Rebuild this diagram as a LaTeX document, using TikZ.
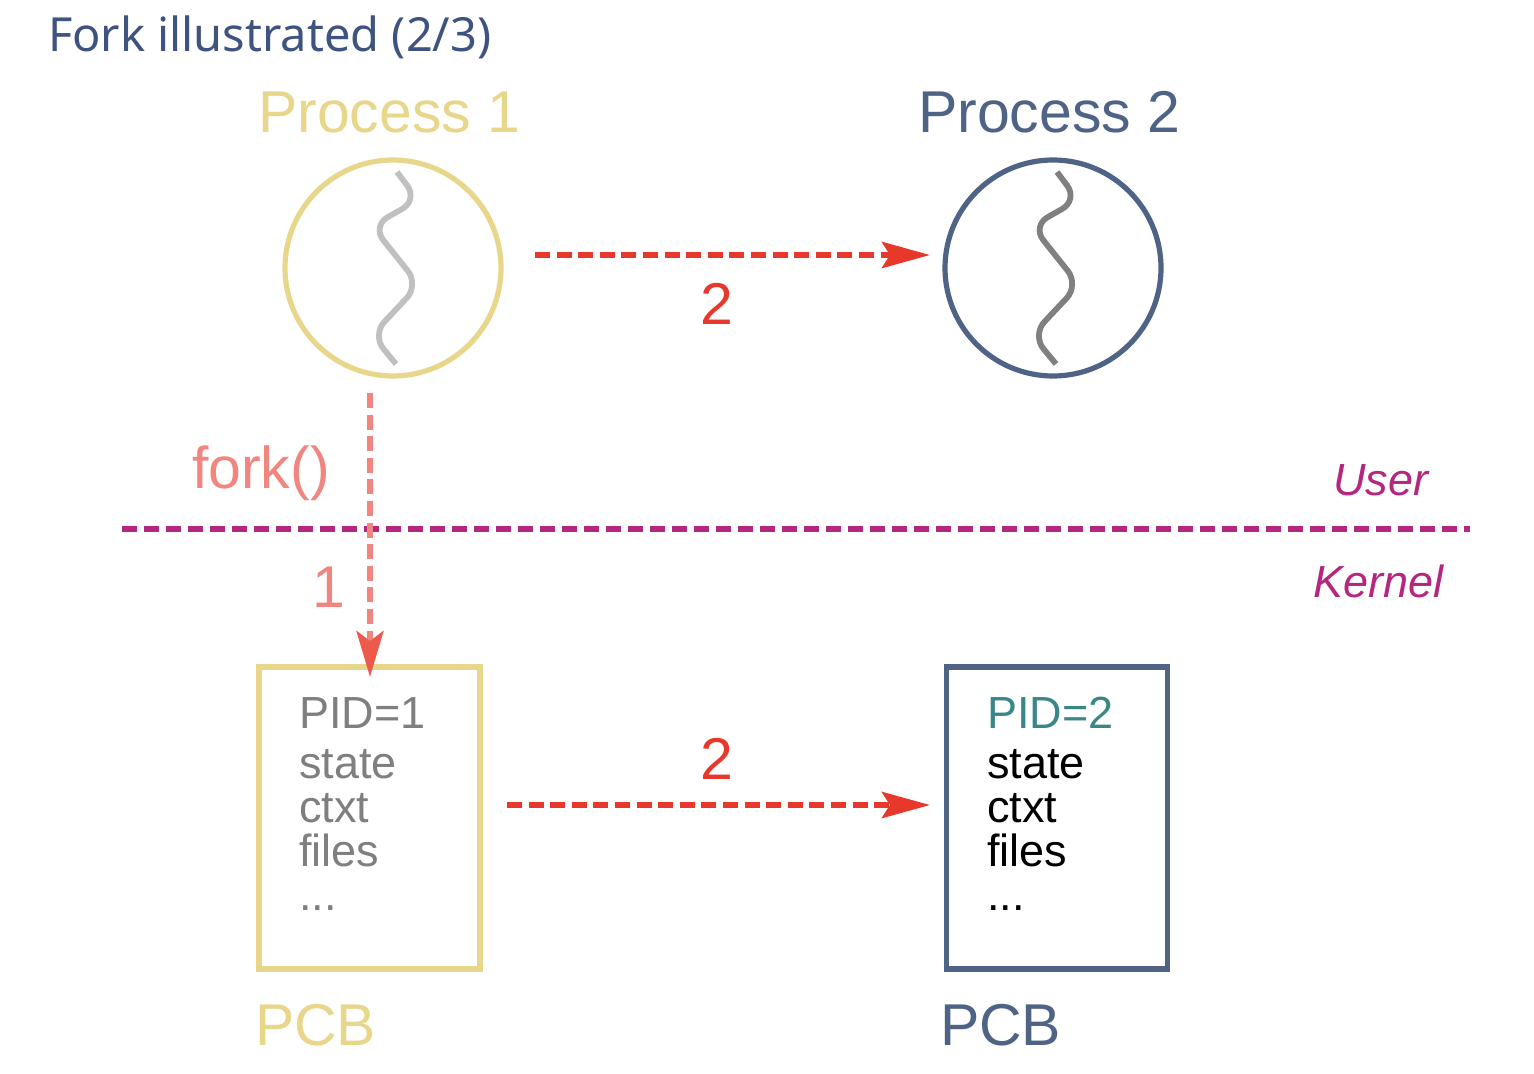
\documentclass[tikz,border=0pt]{standalone}
\usepackage{fontspec}
\setmainfont{Liberation Sans}
\newfontfamily\titlefont{Noto Sans}
\usetikzlibrary{arrows.meta,calc}
\definecolor{yellowc}{HTML}{E8D68A}
\definecolor{bluec}{HTML}{4E6385}
\definecolor{titlec}{HTML}{3E5380}
\definecolor{redc}{HTML}{E8382B}
\definecolor{salmonc}{HTML}{F1857F}
\definecolor{forktip}{HTML}{EC5A4C}
\definecolor{magc}{HTML}{B5277F}
\definecolor{tealc}{HTML}{3A8787}
\definecolor{grayt}{HTML}{7F7F7F}
\definecolor{squigA}{HTML}{C0C0C0}
\definecolor{squigB}{HTML}{808080}
\begin{document}
\begin{tikzpicture}[x=0.5pt,y=-0.5pt,
  txt/.style={anchor=base west,inner sep=0pt,outer sep=0pt},
  big/.style={font=\fontsize{29.5}{36}\selectfont},
  mid/.style={font=\fontsize{22.5}{27}\selectfont\itshape},
  proc/.style={circle,draw,line width=2.6pt,minimum size=108pt,inner sep=0pt},
  pcb/.style={rectangle,draw,line width=2.7pt,minimum width=110.5pt,minimum height=151pt,inner sep=0pt},
  squig/.style={line width=2.9pt,rounded corners=9pt},
  redarrow/.style={draw=redc,line width=2.9pt,dash pattern=on 7.5pt off 3.3pt,
     -{Stealth[length=24pt,width=13pt,inset=4pt,color=redc]}},
  forkarrow/.style={draw=salmonc,line width=2.6pt,dash pattern=on 7.5pt off 3.3pt,
     -{Stealth[length=23pt,width=13.5pt,inset=5pt,color=forktip]}},
  boundary/.style={draw=magc,line width=2.8pt,dash pattern=on 7.5pt off 3.5pt},
  boxtext/.style={anchor=base west,inner sep=0pt,align=left,font=\fontsize{22.5}{22}\selectfont}
]
\useasboundingbox[fill=white] (0,0) rectangle (1534,1074);

% title
\node[txt,text=titlec,font=\titlefont\fontsize{23.5}{29}\selectfont] (title) at (48,52) {Fork illustrated (2/3)};

% processes
\node[txt,big,text=yellowc] (lp1) at (258,133) {Process 1};
\node[txt,big,text=bluec] (lp2) at (918,133) {Process 2};
\node[proc,draw=yellowc] (p1) at (393,268) {};
\node[proc,draw=bluec] (p2) at (1053,268) {};

% threads
\draw[squig,squigA] ($(p1.center)+(4,-96)$) -- ++(21,28) -- ++(-46,26) -- ++(47,59) -- ++(-47,50) -- ++(24,29);
\draw[squig,squigB] ($(p2.center)+(4,-96)$) -- ++(21,28) -- ++(-46,26) -- ++(47,59) -- ++(-47,50) -- ++(24,29);

% user/kernel boundary
\coordinate (bl) at (122,529);
\coordinate (br) at (1470,529);
\draw[boundary] (bl) -- (br);
\node[txt,mid,text=magc] (user) at (1333,495) {User};
\node[txt,mid,text=magc] (kernel) at (1313,597) {Kernel};

% PCBs
\node[pcb,draw=yellowc] (pcb1) at (369.5,818) {};
\node[pcb,draw=bluec] (pcb2) at (1057,818) {};
\node[boxtext,text=grayt] (t1) at (299,910) {PID=1\\[3pt]state\\ctxt\\files\\...};
\node[boxtext] (t2) at (987,910) {\textcolor{tealc}{PID=2}\\[3pt]state\\ctxt\\files\\...};
\node[txt,big,text=yellowc] (pcbl1) at (255,1045) {PCB};
\node[txt,big,text=bluec] (pcbl2) at (940,1045) {PCB};

% fork arrow
\coordinate (fs) at (370,393);
\coordinate (fe) at (370,677);
\draw[forkarrow] (fs) -- (fe);
\node[txt,big,text=salmonc] (fork) at (192,488) {fork()};
\node[anchor=base,inner sep=0pt,big,text=salmonc] (one) at (329,607) {1};

% copy arrows
\coordinate (as) at (535,255);
\coordinate (ae) at (930,255);
\draw[redarrow] (as) -- (ae);
\node[anchor=base,inner sep=0pt,big,text=redc] (two1) at (717,325) {2};
\coordinate (bs) at (507,805);
\coordinate (be) at (930,805);
\draw[redarrow] (bs) -- (be);
\node[anchor=base,inner sep=0pt,big,text=redc] (two2) at (717,779) {2};
\end{tikzpicture}
\end{document}
